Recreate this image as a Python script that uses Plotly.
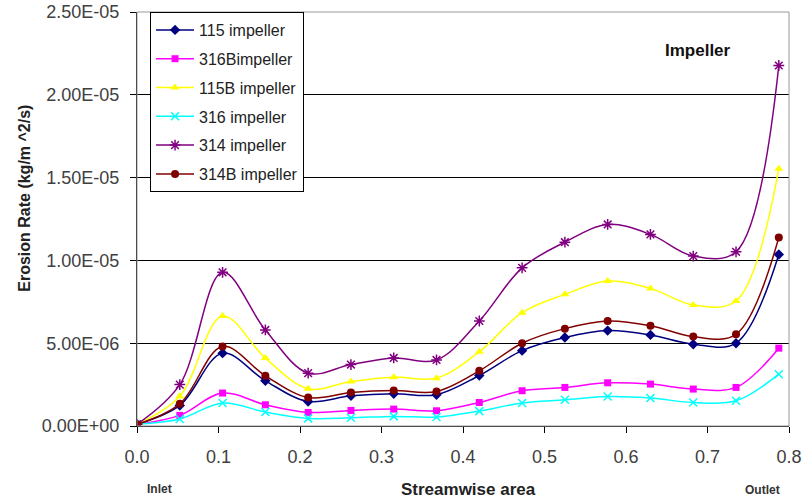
import plotly.graph_objects as go

x_pos = [0, 0.0525, 0.105, 0.1575, 0.21, 0.2625, 0.315, 0.3675, 0.42, 0.4725,
         0.525, 0.5775, 0.63, 0.6825, 0.735, 0.7875]

s115 = [0.10e-6, 1.24e-6, 4.40e-6, 2.73e-6, 1.48e-6, 1.82e-6, 1.95e-6, 1.89e-6,
        3.05e-6, 4.55e-6, 5.34e-6, 5.76e-6, 5.50e-6, 4.94e-6, 5.00e-6, 10.36e-6]
s316B = [0.10e-6, 0.64e-6, 1.99e-6, 1.28e-6, 0.82e-6, 0.94e-6, 1.02e-6, 0.92e-6,
         1.42e-6, 2.13e-6, 2.33e-6, 2.61e-6, 2.53e-6, 2.23e-6, 2.33e-6, 4.70e-6]
s115B = [0.10e-6, 1.80e-6, 6.64e-6, 4.10e-6, 2.25e-6, 2.69e-6, 2.95e-6, 2.89e-6,
         4.48e-6, 6.84e-6, 7.95e-6, 8.75e-6, 8.31e-6, 7.31e-6, 7.55e-6, 15.54e-6]
s316 = [0.10e-6, 0.42e-6, 1.39e-6, 0.84e-6, 0.46e-6, 0.50e-6, 0.58e-6, 0.54e-6,
        0.90e-6, 1.39e-6, 1.58e-6, 1.78e-6, 1.69e-6, 1.42e-6, 1.52e-6, 3.13e-6]
s314 = [0.10e-6, 2.50e-6, 9.28e-6, 5.80e-6, 3.19e-6, 3.71e-6, 4.11e-6, 3.99e-6,
        6.34e-6, 9.55e-6, 11.10e-6, 12.17e-6, 11.57e-6, 10.26e-6, 10.52e-6, 21.77e-6]
s314B = [0.10e-6, 1.34e-6, 4.80e-6, 3.03e-6, 1.72e-6, 2.02e-6, 2.14e-6, 2.08e-6,
         3.33e-6, 5.00e-6, 5.88e-6, 6.34e-6, 6.06e-6, 5.40e-6, 5.54e-6, 11.39e-6]

series_names = ["115 impeller", "316Bimpeller", "115B impeller", "316 impeller",
                "314 impeller", "314B impeller"]
series_values = [s115, s316B, s115B, s316, s314, s314B]

y_tick_vals = [0, 5e-6, 1e-5, 1.5e-5, 2e-5, 2.5e-5]
y_tick_text = ["0.00E+00", "5.00E-06", "1.00E-05", "1.50E-05", "2.00E-05", "2.50E-05"]

colors = ["#000080", "#FF00FF", "#FFFF00", "#00FFFF", "#800080", "#800000"]
symbols = ["diamond", "square", "triangle-up", "x-thin", "asterisk", "circle"]
sizes = [8, 7, 8, 8, 9, 8]

FONT = "Arial, Liberation Sans, sans-serif"

fig = go.Figure()
for i, (name, vals) in enumerate(zip(series_names, series_values)):
    sym = symbols[i]
    marker = dict(symbol=sym, size=sizes[i], color=colors[i])
    if sym in ("x-thin", "asterisk"):
        marker["line"] = dict(color=colors[i], width=1.5)
    fig.add_trace(go.Scatter(
        x=x_pos, y=vals, name=name, mode="lines+markers",
        line=dict(color=colors[i], width=1.5, shape="spline", smoothing=1.0),
        marker=marker, legendgroup=name,
    ))


def note(text, x, y, size, color="#222222", angle=0):
    return dict(text=text, xref="paper", yref="paper", x=x, y=y,
                xanchor="center", yanchor="middle", textangle=angle,
                showarrow=False, font=dict(family=FONT, size=size, color=color))


fig.update_layout(
    width=806, height=500,
    margin=dict(l=137, r=17, t=12, b=74, autoexpand=False),
    paper_bgcolor="white", plot_bgcolor="white",
    font=dict(family=FONT, size=16, color="#333333"),
    showlegend=True,
    legend=dict(x=0.02, y=1.0, xanchor="left", yanchor="top",
                bgcolor="white", bordercolor="black", borderwidth=1,
                font=dict(family=FONT, size=16, color="#222222"),
                tracegroupgap=5, itemwidth=38),
    xaxis=dict(range=[0, 0.8], dtick=0.1, tick0=0, tickformat=".1f",
               automargin=False, ticklabeloverflow="allow",
               showgrid=False, zeroline=False, showline=True, linecolor="black",
               linewidth=1, ticks="outside", ticklen=6, tickcolor="black",
               ticklabelstandoff=8,
               tickfont=dict(family=FONT, size=18, color="#404040")),
    yaxis=dict(range=[0, 2.5e-5], tickvals=y_tick_vals, ticktext=y_tick_text,
               automargin=False, ticklabeloverflow="allow",
               showgrid=True, gridcolor="black", gridwidth=1, zeroline=False,
               showline=True, linecolor="black", linewidth=1,
               ticks="outside", ticklen=6, tickcolor="black",
               ticklabelstandoff=7,
               tickfont=dict(family=FONT, size=18, color="#404040")),
    shapes=[dict(type="rect", xref="paper", yref="paper", x0=0, y0=0, x1=1, y1=1,
                 line=dict(color="#999999", width=1), layer="above")],
    annotations=[
        note("<b>Erosion Rate (kg/m ^2/s)</b>", -0.172, 0.551, 16, angle=-90),
        note("<b>Streamwise area</b>", 0.508, -0.154, 17),
        note("<b>Inlet</b>", 0.0345, -0.151, 12, "#333333"),
        note("<b>Outlet</b>", 0.960, -0.154, 12, "#333333"),
        note("<b>Impeller</b>", 0.860, 0.9065, 17, "#111111"),
    ],
)

fig.write_html("out.html",
               config={"displayModeBar": False},
               post_script="document.body.style.margin='0';"
                           "document.body.style.padding='0';")
